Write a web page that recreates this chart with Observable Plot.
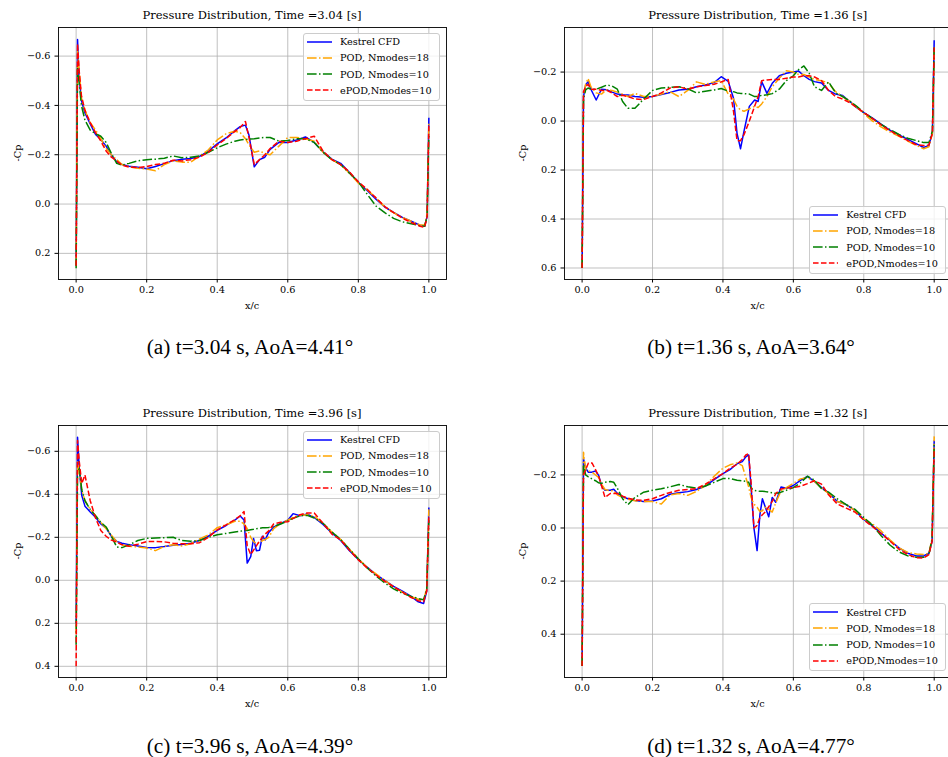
<!DOCTYPE html>
<html><head><meta charset="utf-8">
<script src="https://cdn.jsdelivr.net/npm/d3@7"></script>
<script src="https://cdn.jsdelivr.net/npm/@observablehq/plot@0.6"></script>
<style>
html,body{margin:0;padding:0;background:#fff;overflow:hidden;}
#fig{position:relative;width:948px;height:757px;overflow:hidden;background:#fff;font-family:"DejaVu Serif",serif;color:#000;}
.abs{position:absolute;}
.title{font-size:11.5px;text-align:center;white-space:nowrap;line-height:14px;}
.ylab{font-size:9.7px;text-align:center;white-space:nowrap;line-height:12px;transform:rotate(-90deg);}
.xlab{font-size:9.7px;text-align:center;white-space:nowrap;line-height:12px;}
.cap{font-family:"Liberation Serif",serif;font-size:21.3px;text-align:center;white-space:nowrap;line-height:24px;}
.legend{border:1px solid #cccccc;border-radius:3px;background:rgba(255,255,255,0.8);box-sizing:border-box;}
.legrow{position:absolute;left:3px;height:12px;display:flex;align-items:center;font-size:9.7px;white-space:nowrap;}
.legrow svg{margin-right:8px;}
</style>
</head><body>
<div id="fig"></div>
<script>
// ---------- shared labels / ticks ----------
const seriesNames = ["Kestrel CFD", "POD, Nmodes=18", "POD, Nmodes=10", "ePOD,Nmodes=10"];
const xTicks = [0, 0.2, 0.4, 0.6, 0.8, 1.0];

// ---------- panel (a): t = 3.04 s ----------
const aTitle = "Pressure Distribution, Time =3.04 [s]";
const aCaption = "(a) t=3.04 s, AoA=4.41°";
const aYTicks = [-0.6, -0.4, -0.2, 0.0, 0.2];
const aX = [0, 0.004, 0.008, 0.015, 0.025, 0.04, 0.055, 0.07, 0.085, 0.1, 0.115, 0.13, 0.15, 0.175, 0.2, 0.225, 0.25, 0.275, 0.3, 0.325, 0.35, 0.375, 0.4, 0.425, 0.45, 0.465, 0.48, 0.49, 0.505, 0.52, 0.535, 0.55, 0.575, 0.6, 0.625, 0.65, 0.675, 0.7, 0.725, 0.75, 0.775, 0.8, 0.825, 0.85, 0.875, 0.9, 0.925, 0.95, 0.975, 0.988, 0.995, 1.0];
const aKestrel = [0.25, -0.667, -0.52, -0.42, -0.37, -0.325, -0.282, -0.262, -0.235, -0.198, -0.172, -0.16, -0.153, -0.149, -0.143, -0.152, -0.164, -0.176, -0.182, -0.185, -0.193, -0.215, -0.244, -0.268, -0.298, -0.314, -0.32, -0.28, -0.151, -0.18, -0.19, -0.222, -0.25, -0.25, -0.26, -0.272, -0.25, -0.212, -0.182, -0.165, -0.128, -0.088, -0.055, -0.02, 0.012, 0.034, 0.054, 0.07, 0.086, 0.09, 0.05, -0.35];
const aPOD18 = [0.25, -0.62, -0.55, -0.43, -0.38, -0.33, -0.3, -0.265, -0.225, -0.2, -0.18, -0.16, -0.152, -0.145, -0.142, -0.135, -0.16, -0.175, -0.17, -0.17, -0.195, -0.22, -0.26, -0.285, -0.295, -0.29, -0.265, -0.24, -0.21, -0.215, -0.205, -0.2, -0.235, -0.27, -0.27, -0.265, -0.255, -0.21, -0.18, -0.16, -0.125, -0.085, -0.058, -0.025, 0.012, 0.035, 0.055, 0.07, 0.085, 0.085, 0.04, -0.33];
const aPOD10 = [0.26, -0.55, -0.5, -0.4, -0.34, -0.3, -0.285, -0.275, -0.25, -0.205, -0.165, -0.158, -0.165, -0.175, -0.18, -0.182, -0.186, -0.195, -0.188, -0.19, -0.195, -0.21, -0.228, -0.243, -0.255, -0.26, -0.262, -0.263, -0.265, -0.268, -0.27, -0.27, -0.255, -0.258, -0.265, -0.265, -0.25, -0.21, -0.18, -0.16, -0.125, -0.09, -0.04, 0.008, 0.035, 0.058, 0.072, 0.08, 0.088, 0.09, 0.05, -0.28];
const aEPOD = [0.25, -0.65, -0.55, -0.44, -0.38, -0.33, -0.29, -0.255, -0.215, -0.19, -0.175, -0.158, -0.15, -0.148, -0.152, -0.16, -0.165, -0.178, -0.175, -0.18, -0.19, -0.21, -0.24, -0.265, -0.295, -0.31, -0.335, -0.27, -0.16, -0.18, -0.2, -0.225, -0.255, -0.25, -0.255, -0.265, -0.275, -0.215, -0.18, -0.16, -0.13, -0.09, -0.06, -0.025, 0.01, 0.035, 0.057, 0.075, 0.09, 0.095, 0.05, -0.32];

// ---------- panel (b): t = 1.36 s ----------
const bTitle = "Pressure Distribution, Time =1.36 [s]";
const bCaption = "(b) t=1.36 s, AoA=3.64°";
const bYTicks = [-0.2, 0.0, 0.2, 0.4, 0.6];
const bX = [0, 0.004, 0.01, 0.017, 0.025, 0.04, 0.055, 0.07, 0.085, 0.1, 0.115, 0.13, 0.15, 0.175, 0.2, 0.225, 0.25, 0.275, 0.3, 0.325, 0.35, 0.375, 0.395, 0.415, 0.43, 0.44, 0.45, 0.46, 0.475, 0.49, 0.5, 0.51, 0.525, 0.54, 0.56, 0.58, 0.6, 0.615, 0.63, 0.645, 0.66, 0.68, 0.7, 0.72, 0.74, 0.76, 0.78, 0.8, 0.825, 0.85, 0.875, 0.9, 0.925, 0.95, 0.97, 0.985, 0.995, 1.0];
const bKestrel = [0.6, -0.1, -0.147, -0.161, -0.13, -0.086, -0.13, -0.128, -0.118, -0.11, -0.107, -0.106, -0.1, -0.097, -0.1, -0.108, -0.117, -0.127, -0.13, -0.14, -0.147, -0.157, -0.181, -0.162, -0.093, 0.05, 0.113, 0.04, -0.06, -0.086, -0.08, -0.161, -0.113, -0.154, -0.185, -0.195, -0.2, -0.204, -0.185, -0.17, -0.161, -0.155, -0.125, -0.11, -0.104, -0.08, -0.055, -0.034, -0.012, 0.014, 0.038, 0.057, 0.075, 0.093, 0.108, 0.1, 0.045, -0.33];
const bPOD18 = [0.6, -0.1, -0.15, -0.174, -0.14, -0.115, -0.11, -0.128, -0.125, -0.118, -0.11, -0.1, -0.113, -0.1, -0.1, -0.11, -0.12, -0.1, -0.125, -0.16, -0.15, -0.16, -0.165, -0.11, -0.09, -0.06, -0.045, -0.04, -0.05, -0.06, -0.055, -0.07, -0.1, -0.14, -0.175, -0.205, -0.2, -0.19, -0.19, -0.18, -0.17, -0.165, -0.155, -0.12, -0.1, -0.08, -0.058, -0.03, 0.0, 0.025, 0.045, 0.062, 0.082, 0.1, 0.113, 0.105, 0.05, -0.3];
const bPOD10 = [0.6, -0.09, -0.127, -0.135, -0.13, -0.13, -0.138, -0.147, -0.143, -0.13, -0.08, -0.052, -0.052, -0.09, -0.125, -0.135, -0.138, -0.14, -0.132, -0.115, -0.122, -0.127, -0.133, -0.122, -0.12, -0.115, -0.113, -0.112, -0.11, -0.1, -0.1, -0.105, -0.107, -0.112, -0.13, -0.165, -0.185, -0.21, -0.225, -0.195, -0.14, -0.125, -0.16, -0.115, -0.1, -0.082, -0.06, -0.035, -0.01, 0.015, 0.035, 0.055, 0.07, 0.08, 0.088, 0.088, 0.04, -0.3];
const bEPOD = [0.6, -0.12, -0.14, -0.15, -0.13, -0.13, -0.125, -0.125, -0.115, -0.1, -0.105, -0.1, -0.09, -0.088, -0.1, -0.115, -0.135, -0.14, -0.13, -0.14, -0.145, -0.15, -0.16, -0.17, -0.04, 0.08, 0.08, 0.055, 0.0, -0.06, -0.1, -0.165, -0.168, -0.17, -0.17, -0.175, -0.18, -0.18, -0.185, -0.185, -0.18, -0.165, -0.125, -0.1, -0.09, -0.075, -0.055, -0.035, -0.01, 0.017, 0.04, 0.06, 0.08, 0.097, 0.1, 0.098, 0.05, -0.3];

// ---------- panel (c): t = 3.96 s ----------
const cTitle = "Pressure Distribution, Time =3.96 [s]";
const cCaption = "(c) t=3.96 s, AoA=4.39°";
const cYTicks = [-0.6, -0.4, -0.2, 0.0, 0.2, 0.4];
const cX = [0, 0.004, 0.009, 0.016, 0.025, 0.04, 0.055, 0.07, 0.085, 0.1, 0.115, 0.13, 0.15, 0.175, 0.2, 0.225, 0.25, 0.275, 0.3, 0.325, 0.35, 0.375, 0.4, 0.425, 0.45, 0.465, 0.476, 0.485, 0.495, 0.503, 0.511, 0.52, 0.528, 0.536, 0.546, 0.56, 0.58, 0.6, 0.615, 0.635, 0.655, 0.675, 0.7, 0.725, 0.75, 0.775, 0.8, 0.825, 0.85, 0.875, 0.9, 0.925, 0.95, 0.97, 0.985, 0.994, 1.0];
const cKestrel = [0.2, -0.665, -0.518, -0.394, -0.345, -0.318, -0.293, -0.262, -0.243, -0.205, -0.181, -0.172, -0.166, -0.16, -0.153, -0.152, -0.157, -0.163, -0.167, -0.172, -0.186, -0.205, -0.232, -0.255, -0.28, -0.299, -0.28, -0.08, -0.11, -0.195, -0.138, -0.14, -0.205, -0.188, -0.223, -0.247, -0.265, -0.28, -0.31, -0.3, -0.308, -0.293, -0.26, -0.22, -0.185, -0.138, -0.097, -0.061, -0.027, 0.0, 0.028, 0.05, 0.075, 0.1, 0.108, 0.05, -0.339];
const cPOD18 = [0.25, -0.55, -0.5, -0.42, -0.37, -0.33, -0.3, -0.27, -0.24, -0.21, -0.18, -0.165, -0.158, -0.155, -0.15, -0.138, -0.158, -0.165, -0.16, -0.17, -0.192, -0.212, -0.245, -0.258, -0.275, -0.275, -0.262, -0.24, -0.2, -0.18, -0.17, -0.175, -0.185, -0.19, -0.2, -0.24, -0.265, -0.28, -0.293, -0.303, -0.305, -0.298, -0.265, -0.225, -0.19, -0.145, -0.1, -0.06, -0.03, 0.0, 0.03, 0.055, 0.075, 0.088, 0.09, 0.04, -0.33];
const cPOD10 = [0.3, -0.5, -0.52, -0.42, -0.37, -0.33, -0.3, -0.27, -0.248, -0.205, -0.155, -0.152, -0.165, -0.185, -0.195, -0.197, -0.198, -0.2, -0.185, -0.182, -0.185, -0.2, -0.212, -0.218, -0.225, -0.228, -0.232, -0.232, -0.235, -0.237, -0.24, -0.242, -0.244, -0.245, -0.246, -0.25, -0.262, -0.276, -0.288, -0.3, -0.302, -0.29, -0.265, -0.225, -0.19, -0.145, -0.1, -0.058, -0.02, 0.012, 0.04, 0.06, 0.075, 0.085, 0.09, 0.04, -0.28];
const cEPOD = [0.4, -0.65, -0.55, -0.45, -0.49, -0.37, -0.29, -0.232, -0.205, -0.187, -0.178, -0.165, -0.158, -0.168, -0.18, -0.181, -0.179, -0.172, -0.17, -0.17, -0.175, -0.2, -0.235, -0.258, -0.282, -0.3, -0.32, -0.16, -0.12, -0.14, -0.16, -0.183, -0.2, -0.215, -0.23, -0.262, -0.27, -0.272, -0.288, -0.305, -0.313, -0.313, -0.265, -0.215, -0.188, -0.14, -0.095, -0.058, -0.025, 0.005, 0.03, 0.055, 0.08, 0.095, 0.1, 0.05, -0.3];

// ---------- panel (d): t = 1.32 s ----------
const dTitle = "Pressure Distribution, Time =1.32 [s]";
const dCaption = "(d) t=1.32 s, AoA=4.77°";
const dYTicks = [-0.2, 0.0, 0.2, 0.4];
const dX = [0, 0.004, 0.01, 0.018, 0.028, 0.038, 0.047, 0.055, 0.065, 0.08, 0.09, 0.1, 0.115, 0.13, 0.15, 0.175, 0.2, 0.225, 0.25, 0.275, 0.3, 0.325, 0.35, 0.375, 0.4, 0.42, 0.44, 0.455, 0.465, 0.473, 0.48, 0.488, 0.497, 0.505, 0.512, 0.52, 0.53, 0.54, 0.55, 0.565, 0.58, 0.6, 0.62, 0.64, 0.66, 0.68, 0.7, 0.725, 0.75, 0.775, 0.8, 0.825, 0.85, 0.875, 0.9, 0.925, 0.95, 0.97, 0.985, 0.994, 1.0];
const dKestrel = [0.52, -0.26, -0.225, -0.21, -0.21, -0.215, -0.198, -0.16, -0.142, -0.142, -0.146, -0.13, -0.118, -0.11, -0.104, -0.1, -0.102, -0.11, -0.127, -0.133, -0.137, -0.145, -0.158, -0.182, -0.205, -0.22, -0.242, -0.25, -0.268, -0.275, -0.15, 0.0, 0.085, -0.05, -0.11, -0.08, -0.042, -0.115, -0.097, -0.154, -0.15, -0.16, -0.179, -0.194, -0.175, -0.152, -0.132, -0.1, -0.088, -0.066, -0.032, -0.008, 0.02, 0.048, 0.075, 0.095, 0.105, 0.105, 0.095, 0.05, -0.33];
const dPOD18 = [0.52, -0.285, -0.22, -0.215, -0.21, -0.2, -0.19, -0.165, -0.145, -0.14, -0.14, -0.125, -0.115, -0.108, -0.103, -0.1, -0.1, -0.09, -0.125, -0.13, -0.123, -0.138, -0.16, -0.195, -0.225, -0.238, -0.245, -0.235, -0.19, -0.155, -0.115, -0.09, -0.078, -0.062, -0.065, -0.078, -0.07, -0.06, -0.095, -0.14, -0.152, -0.168, -0.185, -0.19, -0.175, -0.15, -0.13, -0.1, -0.088, -0.066, -0.035, -0.015, 0.012, 0.045, 0.075, 0.092, 0.098, 0.1, 0.095, 0.04, -0.345];
const dPOD10 = [0.52, -0.24, -0.2, -0.192, -0.185, -0.178, -0.17, -0.168, -0.172, -0.175, -0.172, -0.15, -0.11, -0.088, -0.115, -0.135, -0.142, -0.148, -0.155, -0.164, -0.155, -0.15, -0.158, -0.172, -0.186, -0.186, -0.18, -0.178, -0.176, -0.172, -0.15, -0.142, -0.14, -0.138, -0.138, -0.137, -0.135, -0.133, -0.13, -0.135, -0.142, -0.152, -0.17, -0.195, -0.18, -0.148, -0.135, -0.11, -0.088, -0.07, -0.04, -0.01, 0.03, 0.065, 0.09, 0.105, 0.11, 0.11, 0.1, 0.04, -0.32];
const dEPOD = [0.52, -0.2, -0.22, -0.245, -0.245, -0.22, -0.195, -0.16, -0.115, -0.13, -0.13, -0.13, -0.12, -0.112, -0.106, -0.104, -0.11, -0.123, -0.134, -0.142, -0.145, -0.148, -0.165, -0.185, -0.205, -0.225, -0.24, -0.258, -0.275, -0.28, -0.17, 0.0, -0.01, -0.04, -0.05, -0.06, -0.08, -0.1, -0.13, -0.147, -0.15, -0.152, -0.157, -0.167, -0.178, -0.165, -0.125, -0.09, -0.075, -0.06, -0.03, -0.005, 0.022, 0.05, 0.08, 0.1, 0.112, 0.113, 0.1, 0.05, -0.3];

// ---------- styles (kept apart from the data) ----------
const seriesColors = ["#0000ff", "#ffa500", "#008000", "#ff0000"];
const seriesDash = [null, "9.6,2.4,1.5,2.4", "9.6,2.4,1.5,2.4", "5.55,2.4"];

const panels = [
  {x: aX, series: [aKestrel, aPOD18, aPOD10, aEPOD], yTicks: aYTicks, yDomain: [-0.716, 0.306], title: aTitle, caption: aCaption,
   left: 0, top: 0, width: 470, ml: 58, mr: 24, legend: {left: 303, top: 32.7}, capX: 250, capY: 347},
  {x: bX, series: [bKestrel, bPOD18, bPOD10, bEPOD], yTicks: bYTicks, yDomain: [-0.382, 0.647], title: bTitle, caption: bCaption,
   left: 470, top: 0, width: 482, ml: 94, mr: 0.7, legend: {left: 809.3, top: 205.7}, capX: 751, capY: 347},
  {x: cX, series: [cKestrel, cPOD18, cPOD10, cEPOD], yTicks: cYTicks, yDomain: [-0.72, 0.452], title: cTitle, caption: cCaption,
   left: 0, top: 398, width: 470, ml: 58, mr: 24, legend: {left: 303, top: 430.5}, capX: 250, capY: 746},
  {x: dX, series: [dKestrel, dPOD18, dPOD10, dEPOD], yTicks: dYTicks, yDomain: [-0.386, 0.563], title: dTitle, caption: dCaption,
   left: 470, top: 398, width: 482, ml: 94, mr: 0.7, legend: {left: 809.3, top: 603}, capX: 751, capY: 746}
];

const fig = document.getElementById("fig");
const H = 320, MT = 27, MB = 41;

function addDiv(cls, text, css) {
  const d = document.createElement("div");
  d.className = "abs " + cls;
  d.textContent = text;
  Object.assign(d.style, css);
  fig.appendChild(d);
  return d;
}

for (const p of panels) {
  const marks = [
    Plot.gridX(xTicks, {stroke: "#b0b0b0", strokeOpacity: 1, strokeWidth: 0.8}),
    Plot.gridY(p.yTicks, {stroke: "#b0b0b0", strokeOpacity: 1, strokeWidth: 0.8}),
    ...p.series.map((ys, i) => Plot.line(ys, {
      x: p.x, y: ys, stroke: seriesColors[i], strokeWidth: 1.5,
      strokeDasharray: seriesDash[i] || undefined, strokeLinejoin: "round", strokeLinecap: "butt"
    })),
    Plot.frame({stroke: "#000", strokeWidth: 0.9}),
    Plot.axisX(xTicks, {tickSize: 3.5, tickPadding: 3, tickFormat: ".1f", label: null}),
    Plot.axisY(p.yTicks, {tickSize: 3.5, tickPadding: 4.5, tickFormat: ".1f", label: null})
  ];
  const svg = Plot.plot({
    width: p.width, height: H,
    marginLeft: p.ml, marginRight: p.mr, marginTop: MT, marginBottom: MB,
    x: {domain: [-0.05, 1.05]},
    y: {domain: p.yDomain, reverse: true},
    style: {fontFamily: "DejaVu Serif", fontSize: "9.7px", background: "transparent", overflow: "visible", color: "#000"},
    marks
  });
  svg.style.position = "absolute";
  svg.style.left = p.left + "px";
  svg.style.top = p.top + "px";
  fig.appendChild(svg);

  const frameL = p.left + p.ml, frameR = p.left + p.width - p.mr;
  const frameW = frameR - frameL;
  const frameT = p.top + MT, frameB = p.top + H - MB;

  addDiv("title", p.title, {left: frameL + "px", width: frameW + "px", top: (p.top + 8) + "px"});
  addDiv("xlab", "x/c", {left: frameL + "px", width: frameW + "px", top: (frameB + 21) + "px"});
  const ycx = p.left === 0 ? 18 : 523;
  addDiv("ylab", "-Cp", {left: (ycx - 20) + "px", width: "40px", top: ((frameT + frameB) / 2 - 6) + "px"});
  addDiv("cap", p.caption, {left: (p.capX - 200) + "px", width: "400px", top: (p.capY - 12) + "px"});

  // legend
  const lg = document.createElement("div");
  lg.className = "abs legend";
  Object.assign(lg.style, {left: p.legend.left + "px", top: p.legend.top + "px", width: "137px", height: "68px"});
  seriesNames.forEach((name, i) => {
    const row = document.createElement("div");
    row.className = "legrow";
    row.style.top = (9 - 6 - 1 + 16.25 * i) + "px";
    const ns = "http://www.w3.org/2000/svg";
    const s = document.createElementNS(ns, "svg");
    s.setAttribute("width", "25"); s.setAttribute("height", "12");
    const ln = document.createElementNS(ns, "line");
    ln.setAttribute("x1", "0"); ln.setAttribute("x2", "25");
    ln.setAttribute("y1", "6"); ln.setAttribute("y2", "6");
    ln.setAttribute("stroke", seriesColors[i]);
    ln.setAttribute("stroke-width", "1.5");
    if (seriesDash[i]) ln.setAttribute("stroke-dasharray", seriesDash[i]);
    s.appendChild(ln);
    row.appendChild(s);
    const t = document.createElement("span");
    t.textContent = name;
    row.appendChild(t);
    lg.appendChild(row);
  });
  fig.appendChild(lg);
}
</script>
</body></html>
